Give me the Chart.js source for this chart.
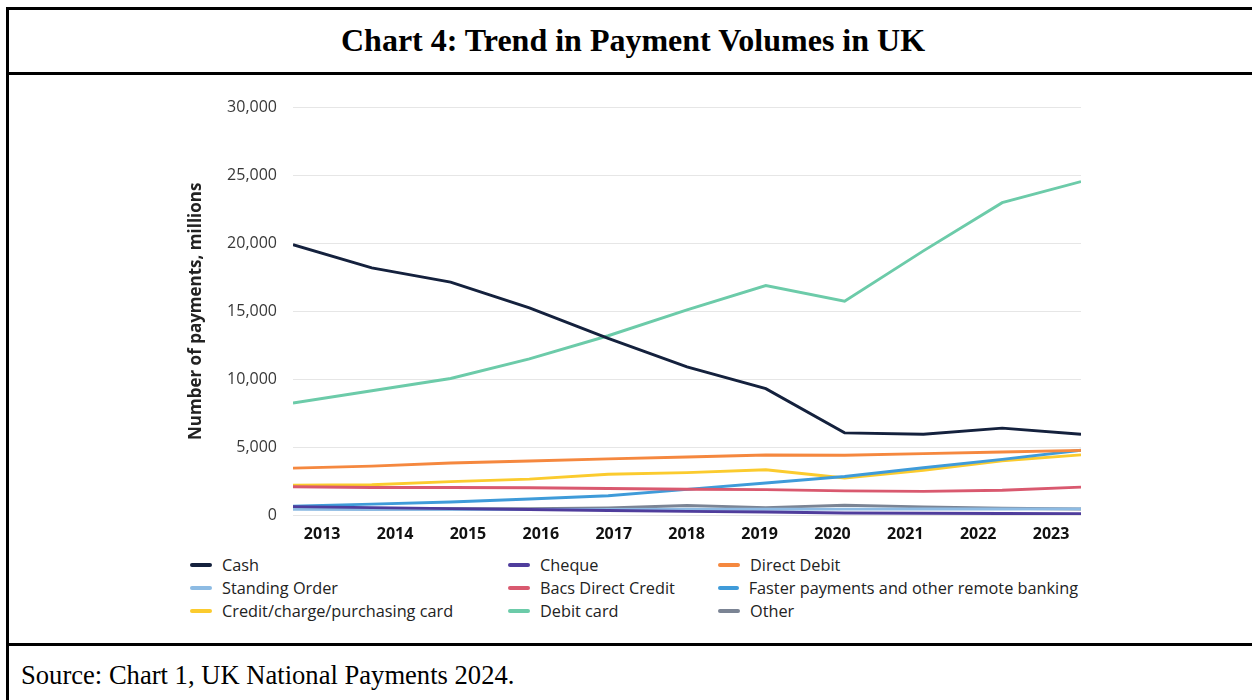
<!DOCTYPE html>
<html>
<head>
<meta charset="utf-8">
<script src="https://cdn.jsdelivr.net/npm/chart.js@4.4.1/dist/chart.umd.min.js"></script>
<style>
  html, body { margin: 0; padding: 0; background: #fff; }
  body { width: 1252px; height: 700px; position: relative; overflow: hidden; }
  .rule { position: absolute; background: #000; }
  #title {
    position: absolute; left: 8px; width: 1250px; top: 9px; height: 63px;
    display: flex; align-items: center; justify-content: center;
    font: bold 32px "Liberation Serif", "Times New Roman", serif; color: #000;
  }
  #source {
    position: absolute; left: 21px; top: 660px;
    font: 26.6px "Liberation Serif", "Times New Roman", serif; color: #000;
  }
  #chartBox { position: absolute; left: 180px; top: 82px; width: 920px; height: 467px; }
  #legend {
    position: absolute; left: 190px; top: 553px;
    display: grid; grid-template-columns: 318px 210px 360px; row-gap: 0;
    font: 16.3px "Open Sans", sans-serif; color: #222;
  }
  #legend .item { display: flex; align-items: center; height: 23px; white-space: nowrap; }
  #legend .swatch { width: 22px; height: 4px; border-radius: 2px; margin-right: 10px; }
</style>
</head>
<body>
<div class="rule" style="left:6px; top:7px; width:1246px; height:3px;"></div>
<div class="rule" style="left:6px; top:72px; width:1246px; height:3px;"></div>
<div class="rule" style="left:6px; top:643px; width:1246px; height:3px;"></div>
<div class="rule" style="left:6px; top:7px; width:3px; height:693px;"></div>
<div id="title">Chart 4: Trend in Payment Volumes in UK</div>
<div id="chartBox"><canvas id="paymentsChart"></canvas></div>
<div id="legend"></div>
<div id="source">Source: Chart 1, UK National Payments 2024.</div>

<script>
// Payment volumes, millions
const years = [2013, 2014, 2015, 2016, 2017, 2018, 2019, 2020, 2021, 2022, 2023];
const cash = [19900, 18200, 17150, 15250, 13000, 10900, 9300, 6050, 5950, 6400, 5950];
const cheque = [620, 540, 470, 400, 330, 270, 220, 150, 130, 110, 90];
const directDebit = [3450, 3600, 3830, 3980, 4130, 4270, 4420, 4400, 4520, 4640, 4760];
const standingOrder = [420, 400, 400, 410, 410, 420, 420, 430, 440, 440, 450];
const bacsDirectCredit = [2080, 2020, 2020, 2010, 1950, 1900, 1870, 1780, 1740, 1820, 2050];
const fasterPayments = [650, 800, 960, 1180, 1420, 1890, 2360, 2840, 3480, 4100, 4770];
const creditCard = [2200, 2230, 2460, 2640, 3000, 3120, 3330, 2720, 3300, 3990, 4430];
const debitCard = [8250, 9150, 10050, 11500, 13200, 15100, 16900, 15750, 19450, 23000, 24550];
const other = [540, 480, 460, 460, 520, 700, 540, 720, 600, 500, 440];
const yTicks = [0, 5000, 10000, 15000, 20000, 25000, 30000];

const series = [
  { label: 'Cash', data: cash, color: '#14213d' },
  { label: 'Cheque', data: cheque, color: '#4f3d9c' },
  { label: 'Direct Debit', data: directDebit, color: '#f5883f' },
  { label: 'Standing Order', data: standingOrder, color: '#8dbbe3' },
  { label: 'Bacs Direct Credit', data: bacsDirectCredit, color: '#d9596f' },
  { label: 'Faster payments and other remote banking', data: fasterPayments, color: '#3f9bd9' },
  { label: 'Credit/charge/purchasing card', data: creditCard, color: '#fbcb2e' },
  { label: 'Debit card', data: debitCard, color: '#6ccba9' },
  { label: 'Other', data: other, color: '#7b8494' }
];

const chart = new Chart(document.getElementById('paymentsChart'), {
  type: 'line',
  data: {
    datasets: series.map(s => ({
      label: s.label,
      data: s.data.map((v, i) => ({ x: years[i], y: v })),
      borderColor: s.color,
      backgroundColor: s.color,
      borderWidth: 2.9,
      pointRadius: 0,
      tension: 0,
      xAxisID: 'x'
    }))
  },
  options: {
    responsive: true,
    maintainAspectRatio: false,
    animation: false,
    layout: { padding: { top: 9, right: 19, left: 0, bottom: 0 } },
    plugins: { legend: { display: false }, tooltip: { enabled: false } },
    scales: {
      x: {
        type: 'linear',
        display: false,
        min: years[0],
        max: years[years.length - 1]
      },
      // year labels sit on their own axis, slightly inset from the data ends
      xYears: {
        type: 'linear',
        position: 'bottom',
        min: 2012.6,
        max: 2023.41,
        grid: { display: false, drawTicks: false },
        border: { display: false },
        afterBuildTicks: axis => { axis.ticks = years.map(v => ({ value: v })); },
        afterFit: axis => { axis.height = 34; },
        ticks: {
          padding: 10,
          maxRotation: 0,
          autoSkip: false,
          color: '#111',
          font: { family: 'Open Sans', size: 16, weight: 'bold' },
          callback: v => String(v)
        }
      },
      y: {
        min: 0,
        max: 30000,
        afterBuildTicks: axis => { axis.ticks = yTicks.map(v => ({ value: v })); },
        afterFit: axis => { axis.width = 113; },
        grid: { color: '#e6e6e6', lineWidth: 1, drawTicks: false },
        border: { display: false },
        ticks: {
          padding: 16,
          color: '#383838',
          font: { family: 'Open Sans', size: 16 },
          callback: v => v.toLocaleString('en-US')
        },
        title: {
          display: true,
          text: 'Number of payments, millions',
          color: '#222',
          padding: { top: 6, bottom: 12 },
          font: { family: 'Open Sans', size: 17, weight: 'bold' }
        }
      }
    }
  }
});

// legend in three columns, reading row by row
const legendEl = document.getElementById('legend');
chart.data.datasets.forEach(ds => {
  const item = document.createElement('div');
  item.className = 'item';
  const sw = document.createElement('span');
  sw.className = 'swatch';
  sw.style.background = ds.borderColor;
  const txt = document.createElement('span');
  txt.textContent = ds.label;
  item.appendChild(sw);
  item.appendChild(txt);
  legendEl.appendChild(item);
});
</script>
</body>
</html>
